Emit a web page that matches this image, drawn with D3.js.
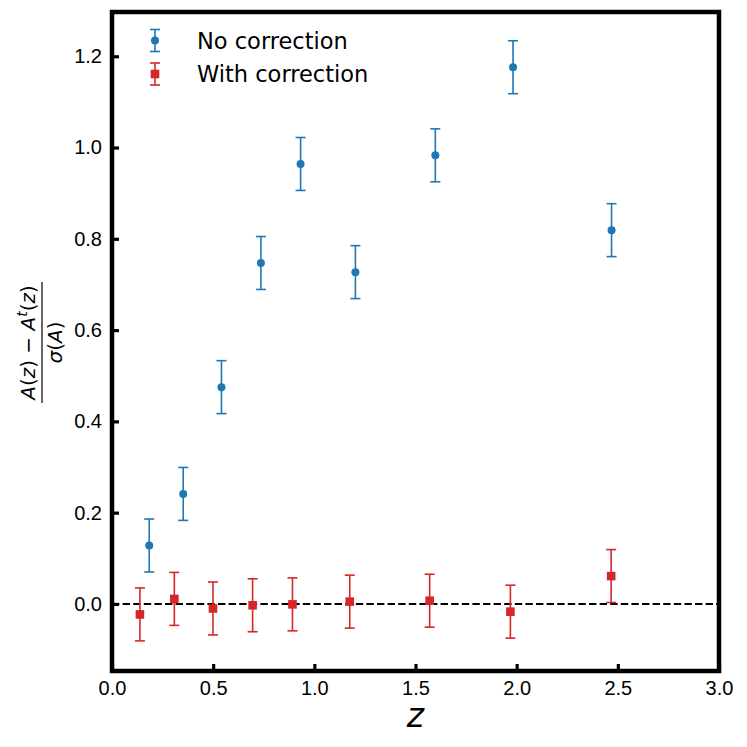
<!DOCTYPE html>
<html>
<head>
<meta charset="utf-8">
<script src="https://cdn.jsdelivr.net/npm/d3@7"></script>
<style>
  body { margin: 0; background: #fff; }
  svg { font-family: "DejaVu Sans", sans-serif; }
</style>
</head>
<body>
<svg id="chart"></svg>
<script>
// values
const zNoCorr = [0.184, 0.352, 0.541, 0.736, 0.932, 1.203, 1.598, 1.982, 2.469];
const yNoCorr = [0.128, 0.241, 0.475, 0.747, 0.964, 0.727, 0.983, 1.176, 0.819];
const eNoCorr = [0.058, 0.058, 0.058, 0.058, 0.058, 0.058, 0.058, 0.058, 0.058];

const zCorr = [0.138, 0.308, 0.499, 0.695, 0.892, 1.175, 1.570, 1.969, 2.467];
const yCorr = [-0.023, 0.011, -0.010, -0.003, -0.001, 0.005, 0.007, -0.017, 0.061];
const eCorr = [0.058, 0.058, 0.058, 0.058, 0.058, 0.058, 0.058, 0.058, 0.058];

const xTicks = [0.0, 0.5, 1.0, 1.5, 2.0, 2.5, 3.0];
const yTicks = [0.0, 0.2, 0.4, 0.6, 0.8, 1.0, 1.2];
const seriesNames = ['No correction', 'With correction'];

const width = 747, height = 747;
const margin = { top: 12, right: 28, bottom: 76, left: 112 };
const innerW = width - margin.left - margin.right;
const innerH = height - margin.top - margin.bottom;

const blue = '#1f77b4', red = '#d62728';

const svg = d3.select('#chart').attr('width', width).attr('height', height);
const chart = svg.append('g').attr('transform', `translate(${margin.left}, ${margin.top})`);

const xscale = d3.scaleLinear().domain([0, 3]).range([0, innerW]);
const yscale = d3.scaleLinear().domain([-0.147, 1.297]).range([innerH, 0]);

// axes with inward ticks
const xaxis = d3.axisBottom(xscale).tickValues(xTicks).tickFormat(d3.format('.1f'))
    .tickSize(-7).tickPadding(10);
const yaxis = d3.axisLeft(yscale).tickValues(yTicks).tickFormat(d3.format('.1f'))
    .tickSize(-7).tickPadding(10);

const gx = chart.append('g').attr('transform', `translate(0, ${innerH})`).call(xaxis);
const gy = chart.append('g').call(yaxis);
[gx, gy].forEach(g => {
    g.select('.domain').remove();
    g.selectAll('line').attr('stroke', '#000').attr('stroke-width', 3.2);
    g.selectAll('text').style('font-size', '20px').attr('fill', '#000');
});

// zero line
chart.append('line')
    .attr('x1', 0).attr('x2', innerW)
    .attr('y1', yscale(0)).attr('y2', yscale(0))
    .attr('stroke', '#000').attr('stroke-width', 2)
    .attr('stroke-dasharray', '7.4,3.2');

function errorbars(g, xs, ys, es, color, square) {
    const data = xs.map((x, i) => ({ x: x, y: ys[i], e: es[i] }));
    const cap = 5;
    const grp = g.append('g');
    grp.selectAll('.eb').data(data).enter().append('line')
        .attr('x1', d => xscale(d.x)).attr('x2', d => xscale(d.x))
        .attr('y1', d => yscale(d.y - d.e)).attr('y2', d => yscale(d.y + d.e))
        .attr('stroke', color).attr('stroke-width', 1.6);
    ['lo', 'hi'].forEach(k => {
        grp.selectAll('.cap' + k).data(data).enter().append('line')
            .attr('x1', d => xscale(d.x) - cap).attr('x2', d => xscale(d.x) + cap)
            .attr('y1', d => yscale(k === 'lo' ? d.y - d.e : d.y + d.e))
            .attr('y2', d => yscale(k === 'lo' ? d.y - d.e : d.y + d.e))
            .attr('stroke', color).attr('stroke-width', 1.6);
    });
    if (square) {
        grp.selectAll('rect').data(data).enter().append('rect')
            .attr('x', d => xscale(d.x) - 4.3).attr('y', d => yscale(d.y) - 4.3)
            .attr('width', 8.6).attr('height', 8.6).attr('fill', color);
    } else {
        grp.selectAll('circle').data(data).enter().append('circle')
            .attr('cx', d => xscale(d.x)).attr('cy', d => yscale(d.y))
            .attr('r', 4).attr('fill', color);
    }
}

errorbars(chart, zNoCorr, yNoCorr, eNoCorr, blue, false);
errorbars(chart, zCorr, yCorr, eCorr, red, true);

// frame
chart.append('rect')
    .attr('x', 0).attr('y', 0).attr('width', innerW).attr('height', innerH)
    .attr('fill', 'none').attr('stroke', '#000').attr('stroke-width', 4.5);

// legend
const legend = svg.append('g');
seriesNames.forEach((name, i) => {
    const cy = 40.5 + i * 33.5;
    const color = i === 0 ? blue : red;
    const lx = 155;
    legend.append('line').attr('x1', lx).attr('x2', lx).attr('y1', cy - 11).attr('y2', cy + 11)
        .attr('stroke', color).attr('stroke-width', 1.6);
    [-11, 11].forEach(o => legend.append('line')
        .attr('x1', lx - 5).attr('x2', lx + 5).attr('y1', cy + o).attr('y2', cy + o)
        .attr('stroke', color).attr('stroke-width', 1.6));
    if (i === 0) {
        legend.append('circle').attr('cx', lx).attr('cy', cy).attr('r', 4).attr('fill', color);
    } else {
        legend.append('rect').attr('x', lx - 4.3).attr('y', cy - 4.3)
            .attr('width', 8.6).attr('height', 8.6).attr('fill', color);
    }
    legend.append('text').attr('x', 197).attr('y', cy + 8)
        .style('font-size', '22.5px').attr('fill', '#000').text(name);
});

// x label
svg.append('text')
    .attr('x', margin.left + innerW / 2).attr('y', 727)
    .attr('text-anchor', 'middle')
    .style('font-size', '33px').style('font-style', 'italic')
    .text('z');

// y label as a fraction
const yl = svg.append('g').attr('transform', `translate(42, ${margin.top + innerH / 2 + 1}) rotate(-90)`);
const num = yl.append('text').attr('x', 0).attr('y', -7).attr('text-anchor', 'middle')
    .style('font-size', '20px');
num.append('tspan').style('font-style', 'italic').text('A');
num.append('tspan').text('(');
num.append('tspan').style('font-style', 'italic').text('z');
num.append('tspan').text(') − ');
num.append('tspan').style('font-style', 'italic').text('A');
num.append('tspan').style('font-style', 'italic').style('font-size', '14px').attr('dy', -8).text('t');
num.append('tspan').attr('dy', 8).text('(');
num.append('tspan').style('font-style', 'italic').text('z');
num.append('tspan').text(')');

yl.append('line').attr('x1', -60.5).attr('x2', 60.5).attr('y1', 0).attr('y2', 0)
    .attr('stroke', '#000').attr('stroke-width', 1.2);

const den = yl.append('text').attr('x', 0).attr('y', 20).attr('text-anchor', 'middle')
    .style('font-size', '20px');
den.append('tspan').style('font-style', 'italic').text('σ');
den.append('tspan').text('(');
den.append('tspan').style('font-style', 'italic').text('A');
den.append('tspan').text(')');
</script>
</body>
</html>
